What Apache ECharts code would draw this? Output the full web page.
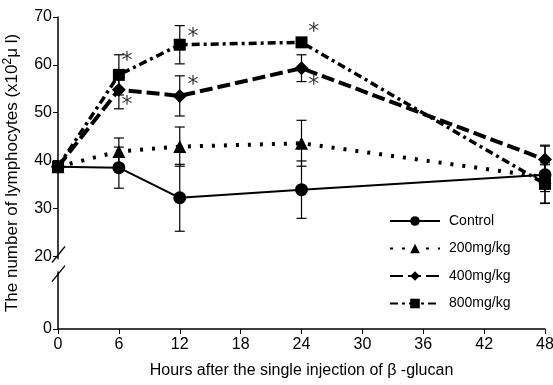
<!DOCTYPE html>
<html>
<head>
<meta charset="utf-8">
<script src="https://cdn.jsdelivr.net/npm/echarts@6/dist/echarts.min.js"></script>
<style>
  html, body { margin: 0; padding: 0; background: #fff; }
  #chart { width: 553px; height: 385px; }
</style>
</head>
<body>
<div id="chart"></div>
<script>
const hours = [0, 6, 12, 24, 48];
const control = [38.7, 38.5, 32.2, 33.9, 37.0];
const controlSd = [0, 4.3, 7.0, 6.0, 6.0];
const dose200 = [38.7, 41.9, 42.9, 43.6, 36.5];
const dose200Sd = [0, 2.8, 4.1, 4.8, 3.0];
const dose400 = [38.7, 54.8, 53.5, 59.3, 40.2];
const dose400Sd = [0, 4.0, 4.2, 2.8, 3.0];
const dose800 = [38.7, 57.9, 64.2, 64.7, 35.1];
const dose800Sd = [0, 4.2, 4.0, 0, 4.0];
const asterisks = [[6.8, 61.6], [6.8, 52.3], [13.3, 66.6], [13.3, 56.5], [25.2, 67.7], [25.2, 56.5]];
const yTicks = [0, 20, 30, 40, 50, 60, 70];

const FONT = "'Liberation Sans Narrow', 'Arial Narrow', 'Liberation Sans', sans-serif";

const pairs = (ys) => hours.map((h, i) => [h, ys[i]]);
const bars = (ys, sd) => hours.map((h, i) => [h, ys[i], sd[i]]);

function errorBar(params, api) {
  const x = api.value(0);
  const m = api.value(1);
  const s = api.value(2);
  if (!s) return null;
  const top = api.coord([x, m + s]);
  const bot = api.coord([x, m - s]);
  const w = 5;
  const st = { stroke: '#000', lineWidth: 1.2 };
  return {
    type: 'group',
    children: [
      { type: 'line', shape: { x1: top[0], y1: top[1], x2: bot[0], y2: bot[1] }, style: st },
      { type: 'line', shape: { x1: top[0] - w, y1: top[1], x2: top[0] + w, y2: top[1] }, style: st },
      { type: 'line', shape: { x1: bot[0] - w, y1: bot[1], x2: bot[0] + w, y2: bot[1] }, style: st },
    ],
  };
}

function errSeries(ys, sd) {
  return {
    type: 'custom',
    renderItem: errorBar,
    encode: { x: 0, y: 1 },
    data: bars(ys, sd),
    z: 1,
    silent: true,
  };
}

function lineSeries(name, ys, symbol, size, dash, width, z) {
  return {
    name: name,
    type: 'line',
    data: pairs(ys),
    symbol: symbol,
    symbolSize: size,
    showAllSymbol: true,
    itemStyle: { color: '#000', borderWidth: 0 },
    lineStyle: { color: '#000', width: width, type: dash },
    z: z,
  };
}

const chart = echarts.init(document.getElementById('chart'));

const option = {
  animation: false,
  backgroundColor: '#fff',
  textStyle: { fontFamily: FONT, color: '#000' },
  grid: { left: 58, right: 8, top: 17, bottom: 56, outerBoundsMode: 'none' },
  legend: {
    orient: 'vertical',
    left: 384,
    top: 209,
    itemWidth: 50,
    itemHeight: 12,
    itemGap: 13.5,
    data: ['Control', '200mg/kg', '400mg/kg', '800mg/kg'],
    textStyle: { fontFamily: FONT, fontSize: 14, color: '#000', padding: [0, 0, 0, 4] },
  },
  xAxis: {
    type: 'value',
    min: 0,
    max: 48,
    interval: 6,
    name: 'Hours after the single injection of \u03b2 -glucan',
    nameLocation: 'middle',
    nameGap: 34,
    nameTextStyle: { fontFamily: FONT, fontSize: 16, color: '#000' },
    splitLine: { show: false },
    axisLine: { lineStyle: { color: '#000', width: 1.5 } },
    axisTick: { inside: false, length: 5, lineStyle: { color: '#000' } },
    axisLabel: { fontFamily: FONT, fontSize: 16, color: '#000', margin: 8 },
  },
  yAxis: {
    type: 'value',
    min: 0,
    max: 70,
    breaks: [{ start: 12, end: 19.5, gap: '4.2%' }],
    breakArea: { show: false },
    name: 'The number of lymphocytes (x10{sup|2}\u03bc l)',
    nameLocation: 'middle',
    nameGap: 36,
    nameTextStyle: {
      fontFamily: FONT, fontSize: 17, color: '#000',
      rich: { sup: { fontFamily: FONT, fontSize: 12, verticalAlign: 'top', padding: [0, 0, 8, 0] } },
    },
    splitLine: { show: false },
    axisLine: { show: true, lineStyle: { color: '#000', width: 1.5 } },
    axisTick: { show: true, length: 5, customValues: yTicks, lineStyle: { color: '#000' } },
    axisLabel: { fontFamily: FONT, fontSize: 16, color: '#000', margin: 6, customValues: yTicks },
  },
  series: [
    errSeries(control, controlSd),
    errSeries(dose200, dose200Sd),
    errSeries(dose400, dose400Sd),
    errSeries(dose800, dose800Sd),
    lineSeries('Control', control, 'circle', 13, 'solid', 2, 3),
    lineSeries('200mg/kg', dose200, 'triangle', 13, [3, 9], 4, 4),
    lineSeries('400mg/kg', dose400, 'diamond', 14, [13, 5], 4, 5),
    lineSeries('800mg/kg', dose800, 'rect', 12, [8, 4, 3, 4], 3.5, 6),
    {
      type: 'scatter',
      data: asterisks,
      symbolSize: 0,
      silent: true,
      z: 7,
      label: {
        show: true,
        position: 'inside',
        formatter: '*',
        fontFamily: 'DejaVu Sans',
        fontSize: 22,
        color: '#000',
        offset: [0, 4],
      },
    },
  ],
};

chart.setOption(option);

// break marks on the y axis
const xAx = chart.convertToPixel({ xAxisIndex: 0 }, 0);
const yHi = chart.convertToPixel({ yAxisIndex: 0 }, 19.5);
const yLo = chart.convertToPixel({ yAxisIndex: 0 }, 12);
chart.setOption({
  graphic: [
    { type: 'rect', shape: { x: xAx - 3, y: yHi + 1, width: 6, height: yLo - yHi - 2 }, style: { fill: '#fff' }, z: 100 },
    { type: 'line', shape: { x1: xAx - 6, y1: yHi + 4, x2: xAx + 7, y2: yHi - 12 }, style: { stroke: '#000', lineWidth: 1.3 }, z: 101 },
    { type: 'line', shape: { x1: xAx - 6, y1: yLo + 10, x2: xAx + 7, y2: yLo - 6 }, style: { stroke: '#000', lineWidth: 1.3 }, z: 101 },
  ],
});
</script>
</body>
</html>
